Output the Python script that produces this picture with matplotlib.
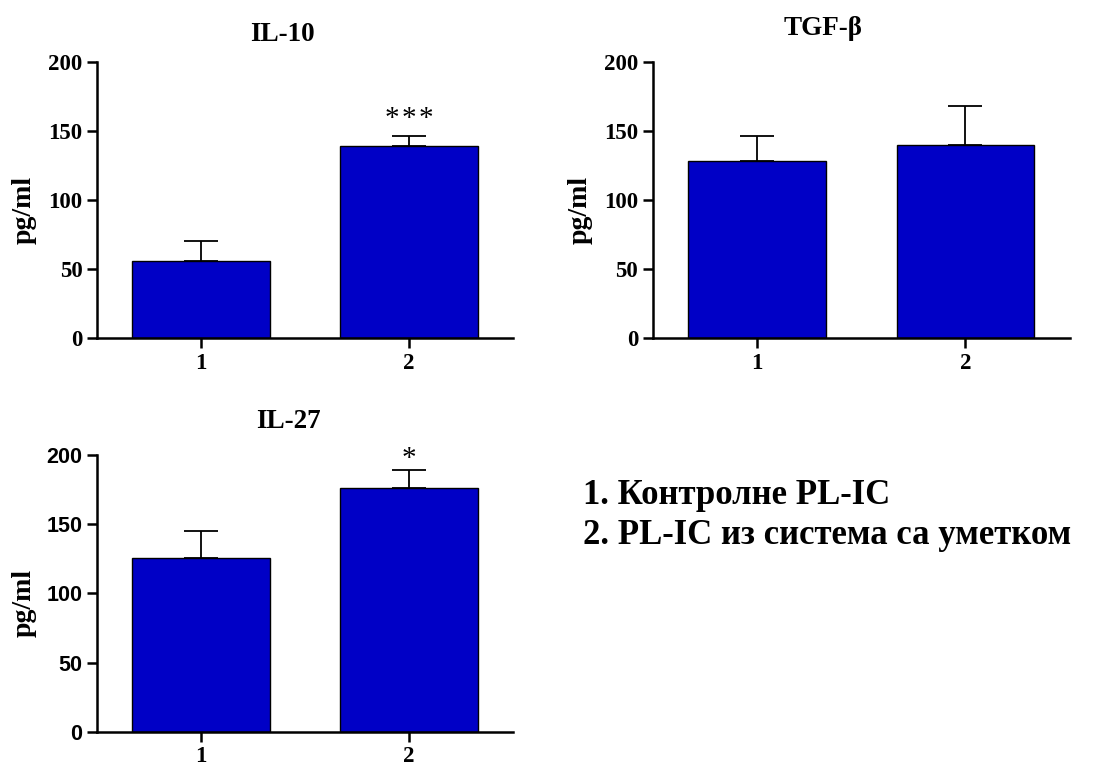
import matplotlib
matplotlib.use("Agg")
import matplotlib.pyplot as plt

# values (pg/ml), SEM shown upward only
groups = ["1", "2"]
il10_mean = [56, 139]
il10_err = [14, 7.5]
tgf_mean = [128, 140]
tgf_err = [18, 28]
il27_mean = [126, 176.5]
il27_err = [19.5, 12.5]

yticks = [0, 50, 100, 150, 200]
legend_lines = ["1. Контролне PL-IC", "2. PL-IC из система са уметком"]

SERIF = "Liberation Serif"
SANS = "Liberation Sans"
BAR_COLOR = "#0000C6"

fig = plt.figure(figsize=(11.1, 7.64), dpi=100)


def panel(rect, title, means, errs, stars=None, star_y=None, star_size=19,
          title_x=0.45, title_y=1.1, tick_font=SERIF, tick_size=16.5):
    ax = fig.add_axes(rect)
    x = [1, 2]
    ax.bar(x, means, width=0.66, color=BAR_COLOR, edgecolor="black",
           linewidth=1.0, zorder=2)
    ax.errorbar(x, means, yerr=[[0, 0], errs], fmt="none", ecolor="black",
                elinewidth=1.3, capsize=12.5, capthick=1.3, zorder=1)
    ax.set_xlim(0.5, 2.5)
    ax.set_ylim(0, 200)
    ax.set_xticks(x)
    ax.set_xticklabels(groups, fontfamily=SERIF, fontweight="bold", fontsize=16.5)
    ax.set_yticks(yticks)
    ax.set_yticklabels([str(t) for t in yticks], fontfamily=tick_font,
                       fontweight="bold", fontsize=tick_size)
    ax.tick_params(axis="both", length=7.5, width=1.8, pad=3)
    for side in ("top", "right"):
        ax.spines[side].set_visible(False)
    for side in ("left", "bottom"):
        ax.spines[side].set_linewidth(1.8)
    ax.set_ylabel("pg/ml", fontfamily=SERIF, fontweight="bold", fontsize=20)
    ax.yaxis.set_label_coords(-0.144, 0.465)
    ax.text(title_x, title_y, title, transform=ax.transAxes, ha="center",
            va="center", fontfamily=SERIF, fontweight="bold", fontsize=19.5)
    if stars:
        ax.text(2, star_y, stars, ha="center", va="center",
                fontfamily=[SERIF, "DejaVu Sans"], fontsize=star_size)
    return ax


panel([0.0874, 0.5576, 0.3748, 0.3613], "IL-10", il10_mean, il10_err,
      stars="*\u200a*\u200a*", star_y=159, star_size=21, title_x=0.445,
      title_y=1.098)
panel([0.588, 0.5576, 0.3757, 0.3613], "TGF-β", tgf_mean, tgf_err,
      title_x=0.408, title_y=1.123)
panel([0.0874, 0.0423, 0.3748, 0.3618], "IL-27", il27_mean, il27_err,
      stars="*", star_y=197, star_size=21, title_x=0.46, title_y=1.122,
      tick_font=SANS, tick_size=15.5)

fig.text(583 / 1110, 1 - 496 / 764, legend_lines[0], ha="left", va="center",
         fontfamily=SERIF, fontweight="bold", fontsize=25)
fig.text(583 / 1110, 1 - 536 / 764, legend_lines[1], ha="left", va="center",
         fontfamily=SERIF, fontweight="bold", fontsize=25)

fig.savefig("out.png", dpi=100, facecolor="white")
